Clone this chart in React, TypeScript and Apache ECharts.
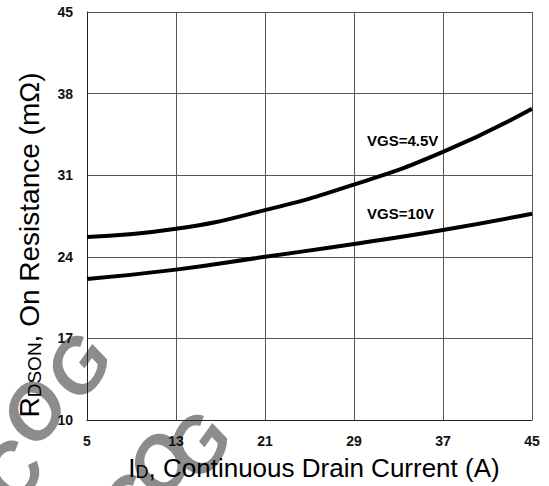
import React, { useEffect, useRef } from "react";
import * as echarts from "echarts";

const currentA = [5, 13, 21, 29, 37, 45];
const rdsonVgs45 = [25.7, 26.4, 28.0, 30.2, 33.0, 36.7];
const rdsonVgs10 = [22.1, 22.9, 24.0, 25.1, 26.3, 27.7];
const seriesNames = ["VGS=4.5V", "VGS=10V"];
const watermarkLetters = ["C", "O", "G"];

export default function App() {
  const ref = useRef<HTMLDivElement>(null);
  useEffect(() => {
    if (!ref.current) return;
    const chart = echarts.init(ref.current, null, { renderer: "svg" });
    const font = "Liberation Sans, Arial, sans-serif";
    const wmStyle = {
      fill: "#8c8c8c",
      font: "italic bold 76px Liberation Sans, Arial, sans-serif",
      align: "center",
      verticalAlign: "middle",
    };
    const wmPos = [
      [12, 472], [34, 412], [78, 366],
      [130, 506], [160, 464], [198, 445],
    ];
    const watermark = wmPos.map((p, i) => ({
      type: "text",
      z: -10,
      x: p[0],
      y: p[1],
      rotation: 0.95,
      style: { text: watermarkLetters[i % 3], ...wmStyle },
    }));
    chart.setOption({
      animation: false,
      backgroundColor: "#fff",
      grid: { left: 87, right: 17, top: 12, bottom: 66 },
      xAxis: {
        type: "value",
        min: 5,
        max: 45,
        interval: 8,
        z: 5,
        axisLine: { show: true, lineStyle: { color: "#222", width: 1 } },
        axisTick: { show: false },
        splitLine: { show: true, lineStyle: { color: "#555", width: 1 } },
        axisLabel: {
          color: "#111",
          fontFamily: font,
          fontWeight: "bold",
          fontSize: 14,
          margin: 14,
          showMinLabel: true,
          showMaxLabel: true,
        },
      },
      yAxis: {
        type: "value",
        min: 10,
        max: 45,
        interval: 7,
        z: 5,
        axisLine: { show: true, lineStyle: { color: "#222", width: 1 } },
        axisTick: { show: false },
        splitLine: { show: true, lineStyle: { color: "#555", width: 1 } },
        axisLabel: {
          color: "#111",
          fontFamily: font,
          fontWeight: "bold",
          fontSize: 14,
          margin: 14,
          showMinLabel: true,
          showMaxLabel: true,
        },
      },
      series: [
        {
          name: seriesNames[0],
          type: "line",
          smooth: true,
          symbol: "none",
          z: 6,
          lineStyle: { color: "#000", width: 4 },
          data: currentA.map((x, i) => [x, rdsonVgs45[i]]),
        },
        {
          name: seriesNames[1],
          type: "line",
          smooth: true,
          symbol: "none",
          z: 6,
          lineStyle: { color: "#000", width: 4 },
          data: currentA.map((x, i) => [x, rdsonVgs10[i]]),
        },
      ],
      graphic: [
        ...watermark,
        {
          type: "text",
          z: 10,
          x: 367,
          y: 140,
          style: { text: seriesNames[0], font: "bold 15px " + font, fill: "#000", verticalAlign: "middle" },
        },
        {
          type: "text",
          z: 10,
          x: 367,
          y: 213,
          style: { text: seriesNames[1], font: "bold 15px " + font, fill: "#000", verticalAlign: "middle" },
        },
        {
          type: "text",
          z: 10,
          x: 27,
          y: 245,
          rotation: Math.PI / 2,
          style: {
            text: "{a|R}{b|DSON}{a|, On Resistance (mΩ)}",
            align: "center",
            verticalAlign: "middle",
            rich: {
              a: { fontFamily: font, fontSize: 28, fill: "#000", lineHeight: 33, verticalAlign: "bottom" },
              b: { fontFamily: font, fontSize: 19, fill: "#000", lineHeight: 23, verticalAlign: "bottom", padding: [8, 0, 0, 0] },
            },
          },
        },
        {
          type: "text",
          z: 10,
          x: 314,
          y: 466,
          style: {
            text: "{a|I}{b|D}{a|, Continuous Drain Current (A)}",
            align: "center",
            verticalAlign: "middle",
            rich: {
              a: { fontFamily: font, fontSize: 26, fill: "#000", lineHeight: 30, verticalAlign: "bottom" },
              b: { fontFamily: font, fontSize: 18, fill: "#000", lineHeight: 22, verticalAlign: "bottom", padding: [7, 0, 0, 0] },
            },
          },
        },
      ],
    });
    return () => chart.dispose();
  }, []);
  return <div ref={ref} style={{ width: 549, height: 486, position: "absolute", left: 0, top: 0 }} />;
}
